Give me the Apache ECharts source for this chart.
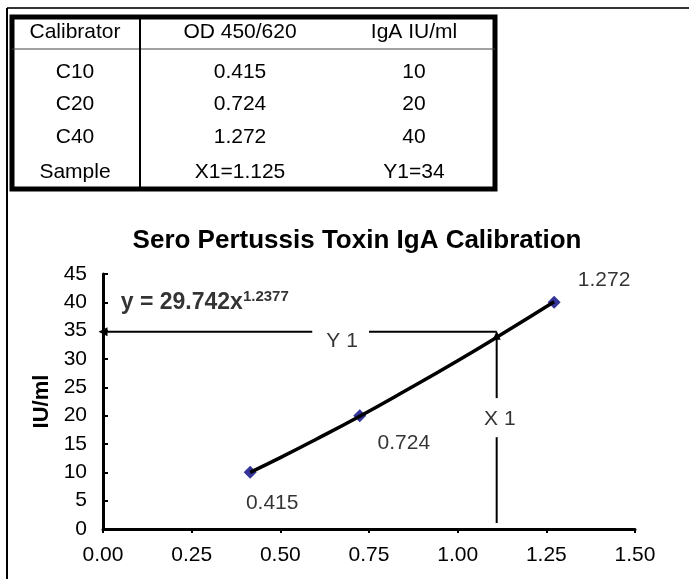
<!DOCTYPE html>
<html><head><meta charset="utf-8">
<script src="https://cdn.jsdelivr.net/npm/echarts@6/dist/echarts.min.js"></script>
<style>html,body{margin:0;padding:0;background:#fff}#c{width:689px;height:579px}</style>
</head><body><div id="c"></div>
<script>
// ---- table content ----
const tableHeaders = ['Calibrator', 'OD 450/620', 'IgA IU/ml'];
const calibrators = ['C10', 'C20', 'C40', 'Sample'];
const odColumn = ['0.415', '0.724', '1.272', 'X1=1.125'];
const igaColumn = ['10', '20', '40', 'Y1=34'];

// ---- chart data ----
const chartTitle = 'Sero Pertussis Toxin IgA Calibration';
const yAxisName = 'IU/ml';
const odValues = [0.415, 0.724, 1.272];
const iuValues = [10, 20, 40];
const pointLabels = ['0.415', '0.724', '1.272'];
// power trendline
const trendX = [0.415, 0.5, 0.6, 0.724, 0.85, 1.0, 1.125, 1.272];
const trendY = [10.0, 12.6, 15.8, 19.9, 24.3, 29.7, 34.4, 40.1];
const equationMain = 'y = 29.742x';
const equationExp = '1.2377';
// sample reading guide lines
const y1Level = 34.8;
const y1SegmentsX = [[0, 0.59], [0.75, 1.11]];
const x1Level = 1.11;
const x1SegmentsY = [[34.2, 23.1], [16.2, 1.06]];
const y1LabelPos = [0.674, 33.2];
const x1LabelPos = [1.119, 19.4];
const equationPos = [0.05, 39.9];
const xMin = 0, xMax = 1.5, xStep = 0.25;
const yMin = 0, yMax = 45, yStep = 5;

const FONT = '"Liberation Sans", Arial, sans-serif';
const chart = echarts.init(document.getElementById('c'));

// ---- table graphics ----
const colCenters = [75, 240, 414];
const rowCenters = [32, 72, 104, 137, 172];
const graphics = [
  { type: 'line', shape: { x1: 7, y1: 8, x2: 689, y2: 8 }, style: { stroke: '#333', lineWidth: 2 } },
  { type: 'line', shape: { x1: 7, y1: 8, x2: 7, y2: 579 }, style: { stroke: '#000', lineWidth: 2 } },
  { type: 'rect', shape: { x: 12, y: 17, width: 483, height: 172 }, style: { fill: '#fff', stroke: '#000', lineWidth: 5 } },
  { type: 'line', shape: { x1: 12, y1: 49, x2: 495, y2: 49 }, style: { stroke: '#444', lineWidth: 1 } },
  { type: 'line', shape: { x1: 140, y1: 17, x2: 140, y2: 189 }, style: { stroke: '#000', lineWidth: 2 } }
];
const columns = [calibrators, odColumn, igaColumn];
tableHeaders.forEach((h, c) => {
  graphics.push({ type: 'text', style: { text: h, x: colCenters[c], y: rowCenters[0], align: 'center', verticalAlign: 'middle', fill: '#000', font: '21px ' + FONT } });
  columns[c].forEach((v, r) => {
    graphics.push({ type: 'text', style: { text: v, x: colCenters[c], y: rowCenters[r + 1], align: 'center', verticalAlign: 'middle', fill: '#000', font: '21px ' + FONT } });
  });
});

const labelOffsets = [[22, 31], [44, 28], [50, -22]];
const series = [];
series.push({
  type: 'scatter', z: 2,
  symbol: 'diamond', symbolSize: 13,
  itemStyle: { color: '#000080' },
  data: odValues.map((x, i) => ({
    value: [x, iuValues[i]],
    label: { show: true, formatter: pointLabels[i], offset: labelOffsets[i], position: 'inside', color: '#000', fontSize: 21, fontFamily: FONT }
  }))
});
series.push({
  type: 'line', z: 3, symbol: 'none', smooth: true,
  lineStyle: { color: '#000', width: 3.5 },
  data: trendX.map((x, i) => [x, trendY[i]])
});
y1SegmentsX.forEach((s, k) => {
  series.push({
    type: 'line', z: 4, showSymbol: true, symbol: 'none',
    lineStyle: { color: '#000', width: 2 },
    data: [
      k === 0 ? { value: [s[0], y1Level], symbol: 'triangle', symbolSize: [9, 9], symbolRotate: 90, itemStyle: { color: '#000' } } : [s[0], y1Level],
      [s[1], y1Level]
    ]
  });
});
x1SegmentsY.forEach((s, k) => {
  series.push({
    type: 'line', z: 4, showSymbol: true, symbol: 'none',
    lineStyle: { color: '#000', width: 2 },
    data: [
      k === 0 ? { value: [x1Level, s[0]], symbol: 'triangle', symbolSize: [8, 9], itemStyle: { color: '#000' } } : [x1Level, s[0]],
      [x1Level, s[1]]
    ]
  });
});
series.push({
  type: 'scatter', z: 5, symbolSize: 0, silent: true,
  data: [
    { value: y1LabelPos, label: { show: true, position: 'inside', formatter: 'Y 1', color: '#000', fontSize: 21, fontFamily: FONT } },
    { value: x1LabelPos, label: { show: true, position: 'inside', formatter: 'X 1', color: '#000', fontSize: 21, fontFamily: FONT } },
    { value: equationPos, label: { show: true, position: 'right', distance: 0, formatter: '{a|' + equationMain + '}{b|' + equationExp + '}',
      rich: { a: { fontSize: 23, fontWeight: 'bold', fontFamily: FONT, color: '#000' },
              b: { fontSize: 15, fontWeight: 'bold', fontFamily: FONT, color: '#000', verticalAlign: 'top', padding: [0, 0, 12, 0] } } } }
  ]
});

chart.setOption({
  animation: false,
  backgroundColor: '#fff',
  title: { text: chartTitle, left: 352, textAlign: 'center', top: 223,
    textStyle: { fontSize: 26, fontWeight: 'bold', fontFamily: FONT, color: '#000' } },
  grid: { left: 103, right: 54, top: 274, bottom: 50, containLabel: false },
  xAxis: {
    type: 'value', min: xMin, max: xMax, interval: xStep,
    axisLine: { show: true, onZero: false, lineStyle: { color: '#000', width: 3 } },
    axisTick: { show: true, inside: false, length: 4, lineStyle: { color: '#000', width: 2 } },
    splitLine: { show: false },
    axisLabel: { formatter: v => v.toFixed(2), color: '#000', fontSize: 21, fontFamily: FONT, margin: 16 }
  },
  yAxis: {
    type: 'value', min: yMin, max: yMax, interval: yStep,
    name: yAxisName, nameLocation: 'middle', nameGap: 48, nameRotate: 90,
    nameTextStyle: { fontSize: 22, fontWeight: 'bold', fontFamily: FONT, color: '#000' },
    axisLine: { show: true, onZero: false, lineStyle: { color: '#000', width: 3 } },
    axisTick: { show: true, inside: true, length: 5, lineStyle: { color: '#000', width: 2 } },
    splitLine: { show: false },
    axisLabel: { color: '#000', fontSize: 21, fontFamily: FONT, margin: 16 }
  },
  graphic: graphics,
  series: series
});
</script></body></html>
